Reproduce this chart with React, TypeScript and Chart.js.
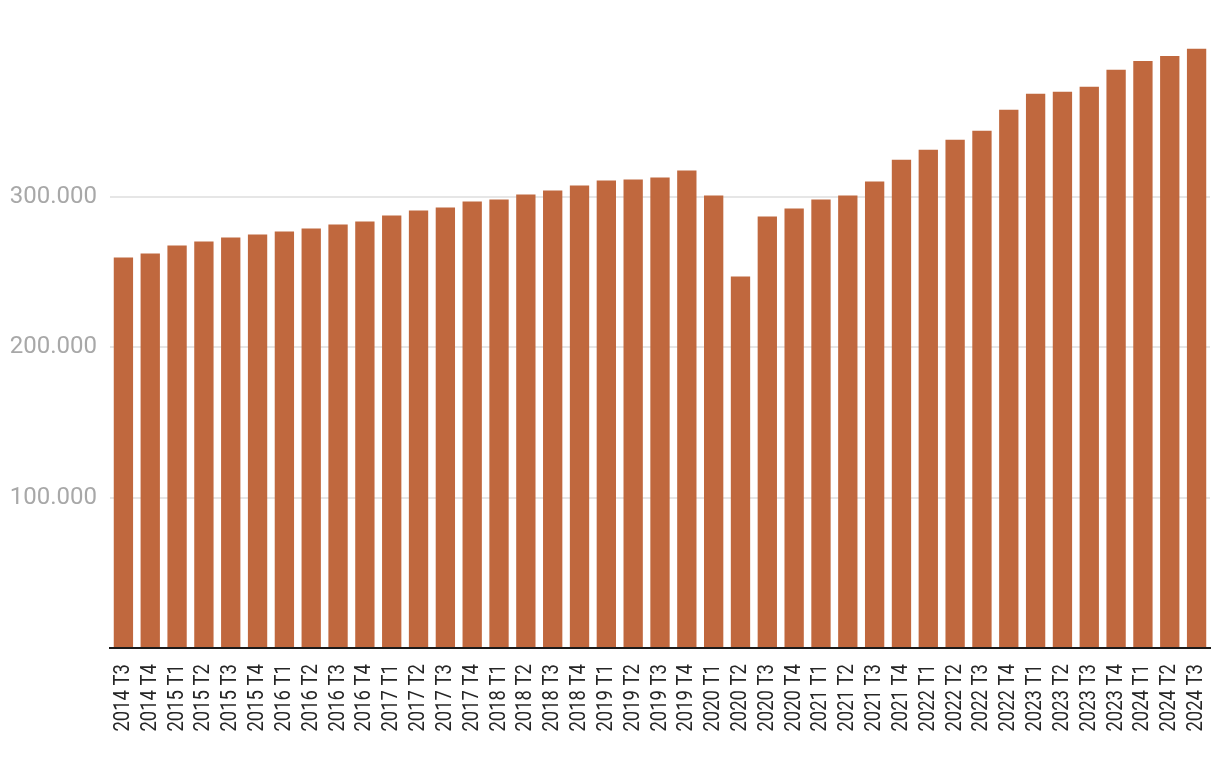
import React, { useEffect, useRef } from "react";
import { Chart, registerables } from "chart.js";

Chart.register(...registerables);

const categories: string[] = [
  "2014 T3", "2014 T4",
  "2015 T1", "2015 T2", "2015 T3", "2015 T4",
  "2016 T1", "2016 T2", "2016 T3", "2016 T4",
  "2017 T1", "2017 T2", "2017 T3", "2017 T4",
  "2018 T1", "2018 T2", "2018 T3", "2018 T4",
  "2019 T1", "2019 T2", "2019 T3", "2019 T4",
  "2020 T1", "2020 T2", "2020 T3", "2020 T4",
  "2021 T1", "2021 T2", "2021 T3", "2021 T4",
  "2022 T1", "2022 T2", "2022 T3", "2022 T4",
  "2023 T1", "2023 T2", "2023 T3", "2023 T4",
  "2024 T1", "2024 T2", "2024 T3",
];

const values: number[] = [
  259500, 262200,
  267500, 270100, 272800, 274800,
  276800, 278800, 281400, 283400,
  287400, 290700, 292700, 296700,
  298000, 301400, 304000, 307300,
  310600, 311300, 312600, 317200,
  300700, 246900, 286700, 292000,
  298000, 300700, 310000, 324500,
  331100, 337700, 343700, 357600,
  368200, 369600, 372900, 384200,
  390100, 393400, 398100,
];

const yTicks: number[] = [100000, 200000, 300000];

const formatThousands = (v: number): string =>
  String(Math.round(v)).replace(/\B(?=(\d{3})+(?!\d))/g, ".");

// Condensed rotated category labels, positioned by the x scale's own ticks
const condensedXLabels = {
  id: "condensedXLabels",
  afterDraw(chart: any) {
    const xs = chart.scales.x;
    const ctx = chart.ctx;
    ctx.save();
    ctx.font = "22px Roboto";
    ctx.fillStyle = "#262626";
    ctx.textAlign = "right";
    ctx.textBaseline = "middle";
    const labels: string[] = chart.data.labels;
    labels.forEach((lab, i) => {
      const x = xs.getPixelForTick(i);
      ctx.save();
      ctx.translate(x, xs.top + 16);
      ctx.rotate(-Math.PI / 2);
      ctx.scale(0.84, 1);
      ctx.fillText(lab, 0, 0);
      ctx.restore();
    });
    ctx.restore();
  },
};

export default function App() {
  const canvasRef = useRef<HTMLCanvasElement | null>(null);

  useEffect(() => {
    document.body.style.margin = "0";
    const canvas = canvasRef.current;
    if (!canvas) return;
    const chart = new Chart(canvas, {
      type: "bar",
      data: {
        labels: categories,
        datasets: [
          {
            data: values,
            backgroundColor: "#c0683e",
            borderWidth: 0,
            categoryPercentage: 0.8,
            barPercentage: 0.9,
          },
        ],
      },
      options: {
        animation: false,
        responsive: false,
        maintainAspectRatio: false,
        layout: { padding: { top: 46, right: 10, bottom: 0, left: 0 } },
        plugins: {
          legend: { display: false },
          tooltip: { enabled: false },
        },
        scales: {
          x: {
            grid: { display: false, drawTicks: false },
            border: { display: true, color: "#1a1a1a", width: 2 },
            ticks: { display: false, autoSkip: false },
            afterFit: (s: any) => {
              s.height = 118;
              s.paddingLeft = 0;
              s.paddingRight = 0;
            },
          },
          y: {
            min: 0,
            max: 400000,
            grid: {
              drawTicks: false,
              lineWidth: 2,
              color: (ctx: any) =>
                ctx.tick && yTicks.includes(ctx.tick.value) ? "#e6e6e6" : "rgba(0,0,0,0)",
            },
            border: { display: false },
            ticks: {
              stepSize: 100000,
              padding: 13,
              color: "#a8a8a8",
              font: { family: "Roboto", size: 24 },
              callback: (v: any) => (yTicks.includes(Number(v)) ? formatThousands(Number(v)) : ""),
            },
            afterFit: (s: any) => {
              s.width = 110;
            },
          },
        },
      },
      plugins: [condensedXLabels],
    });
    return () => chart.destroy();
  }, []);

  return (
    <div style={{ position: "absolute", left: 0, top: 0, width: 1220, height: 766 }}>
      <canvas ref={canvasRef} width={1220} height={766} style={{ width: 1220, height: 766 }} />
    </div>
  );
}
